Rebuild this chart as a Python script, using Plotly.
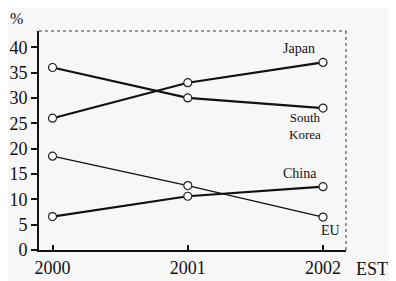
import plotly.graph_objects as go

years = [2000, 2001, 2002]
japan = [26, 33, 37]
south_korea = [36, 30, 28]
eu = [18.5, 12.7, 6.5]
china = [6.6, 10.6, 12.5]
y_ticks = [0, 5, 10, 15, 20, 25, 30, 35, 40]
x_tick_labels = ["2000", "2001", "2002"]

FONT = "Liberation Serif"

fig = go.Figure()
series = [
    ("Japan", japan, 2.2),
    ("South Korea", south_korea, 2.2),
    ("EU", eu, 1.3),
    ("China", china, 2.2),
]
for name, vals, w in series:
    fig.add_trace(go.Scatter(
        x=years, y=vals, mode="lines+markers", name=name,
        line=dict(color="#111", width=w),
        marker=dict(symbol="circle", size=8, color="white",
                    line=dict(color="#222", width=1.2)),
        showlegend=False,
    ))

def label(y, text, xs, ys, size=14):
    fig.add_annotation(x=2002, y=y, text=text, showarrow=False,
                       xanchor="center", yanchor="middle", xshift=xs, yshift=ys,
                       font=dict(family=FONT, size=size, color="#111"))

label(japan[2], "Japan", -24, 14)
label(south_korea[2], "South<br>Korea", -18, -18, size=13)
label(china[2], "China", -23, 13.5)
label(eu[2], "EU", 7, -13)

fig.add_annotation(x=0, y=1, xref="paper", yref="paper", text="%", showarrow=False,
                   xanchor="right", yanchor="bottom", xshift=-14, yshift=2,
                   font=dict(family=FONT, size=16, color="#111"))
fig.add_annotation(x=1, y=0, xref="paper", yref="paper", text="EST.", showarrow=False,
                   xanchor="left", yanchor="top", xshift=8, yshift=-7,
                   font=dict(family=FONT, size=18, color="#111"))

# thin top/right frame
fig.add_shape(type="line", xref="paper", yref="paper", x0=0, x1=1, y0=1, y1=1,
              line=dict(color="#333", width=1, dash="dot"))
fig.add_shape(type="line", xref="paper", yref="paper", x0=1, x1=1, y0=0, y1=1,
              line=dict(color="#333", width=1, dash="dot"))

fig.update_xaxes(range=[1999.9, 2002.17], tickvals=years, ticktext=x_tick_labels,
                 showgrid=False, zeroline=False, showline=True, linecolor="#111",
                 linewidth=2, ticks="inside", ticklen=5, tickwidth=1.5, tickcolor="#111",
                 automargin=False,
                 tickfont=dict(family=FONT, size=18, color="#111"))
fig.update_yaxes(range=[0, 43.2], tickvals=y_ticks, showgrid=False, zeroline=False,
                 showline=True, linecolor="#111", linewidth=2, ticks="outside",
                 ticklen=6, tickwidth=1.5, tickcolor="#111", automargin=False,
                 tickfont=dict(family=FONT, size=18, color="#111"))

fig.update_layout(width=396, height=281, margin=dict(l=31, r=58, t=23, b=39),
                  paper_bgcolor="#f7f7f7", plot_bgcolor="#f7f7f7")
fig.write_html("out.html")
